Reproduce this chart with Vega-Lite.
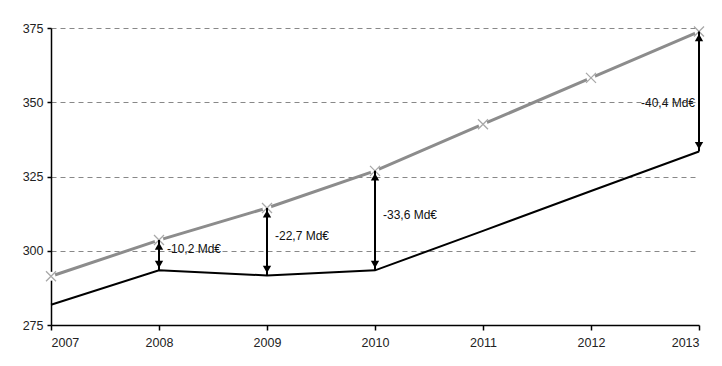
{
  "$schema": "https://vega.github.io/schema/vega-lite/v6.json",
  "width": 648,
  "height": 297,
  "autosize": {"type": "none"},
  "padding": {"left": 51, "top": 28, "right": 23, "bottom": 41},
  "background": "white",
  "config": {
    "view": {"stroke": null},
    "font": "Liberation Sans",
    "axis": {"labelFont": "Liberation Sans", "labelFontSize": 12.5, "labelColor": "#222", "domainColor": "#000", "tickColor": "#000", "domainWidth": 1.5, "tickWidth": 1.5}
  },
  "datasets": {
    "series": [
      {"year": 2007, "serie": "gris", "value": 291.4},
      {"year": 2008, "serie": "gris", "value": 303.6},
      {"year": 2009, "serie": "gris", "value": 314.4},
      {"year": 2010, "serie": "gris", "value": 326.9},
      {"year": 2011, "serie": "gris", "value": 342.6},
      {"year": 2012, "serie": "gris", "value": 358.2},
      {"year": 2013, "serie": "gris", "value": 373.8},
      {"year": 2007, "serie": "noir", "value": 281.8},
      {"year": 2008, "serie": "noir", "value": 293.4},
      {"year": 2009, "serie": "noir", "value": 291.7},
      {"year": 2010, "serie": "noir", "value": 293.4},
      {"year": 2011, "serie": "noir", "value": 306.7},
      {"year": 2012, "serie": "noir", "value": 320.1},
      {"year": 2013, "serie": "noir", "value": 333.4}
    ],
    "gaps": [
      {"year": 2008, "lo": 293.4, "hi": 303.6, "label": "-10,2 Md€"},
      {"year": 2009, "lo": 291.7, "hi": 314.4, "label": "-22,7 Md€"},
      {"year": 2010, "lo": 293.4, "hi": 326.9, "label": "-33,6 Md€"},
      {"year": 2013, "lo": 333.4, "hi": 373.8, "label": "-40,4 Md€"}
    ]
  },
  "layer": [
    {
      "data": {"name": "series"},
      "transform": [{"filter": "datum.serie === 'noir'"}],
      "mark": {"type": "line", "color": "#000", "strokeWidth": 2},
      "encoding": {
        "x": {"field": "year", "type": "quantitative", "scale": {"domain": [2007, 2013], "nice": false, "zero": false},
          "axis": {"title": null, "values": [2007, 2008, 2009, 2010, 2011, 2012, 2013], "format": "d", "grid": false, "tickSize": 5, "labelPadding": 6}},
        "y": {"field": "value", "type": "quantitative", "scale": {"domain": [275, 375], "nice": false, "zero": false},
          "axis": {"title": null, "values": [275, 300, 325, 350, 375], "tickSize": 4, "labelPadding": 4, "grid": true, "gridDash": [5, 4], "gridColor": "#888", "gridWidth": 1}}
      }
    },
    {
      "data": {"name": "series"},
      "transform": [{"filter": "datum.serie === 'gris'"}],
      "mark": {"type": "line", "color": "#8c8c8c", "strokeWidth": 3},
      "encoding": {
        "x": {"field": "year", "type": "quantitative"},
        "y": {"field": "value", "type": "quantitative"}
      }
    },
    {
      "data": {"name": "series"},
      "transform": [{"filter": "datum.serie === 'gris'"}],
      "mark": {"type": "point", "shape": "circle", "size": 80, "filled": true, "color": "white", "opacity": 1},
      "encoding": {
        "x": {"field": "year", "type": "quantitative"},
        "y": {"field": "value", "type": "quantitative"}
      }
    },
    {
      "data": {"name": "series"},
      "transform": [{"filter": "datum.serie === 'gris'"}],
      "mark": {"type": "point", "shape": "M-1,-1L1,1M-1,1L1,-1", "size": 100, "filled": false, "stroke": "#a8a8a8", "strokeWidth": 1.3, "opacity": 1},
      "encoding": {
        "x": {"field": "year", "type": "quantitative"},
        "y": {"field": "value", "type": "quantitative"}
      }
    },
    {
      "data": {"name": "gaps"},
      "mark": {"type": "rule", "color": "#000", "strokeWidth": 2},
      "encoding": {
        "x": {"field": "year", "type": "quantitative"},
        "y": {"field": "lo", "type": "quantitative"},
        "y2": {"field": "hi"}
      }
    },
    {
      "data": {"name": "gaps"},
      "mark": {"type": "point", "shape": "triangle-up", "size": 70, "filled": true, "color": "#000", "opacity": 1, "yOffset": 6},
      "encoding": {
        "x": {"field": "year", "type": "quantitative"},
        "y": {"field": "hi", "type": "quantitative"}
      }
    },
    {
      "data": {"name": "gaps"},
      "mark": {"type": "point", "shape": "triangle-down", "size": 70, "filled": true, "color": "#000", "opacity": 1, "yOffset": -6},
      "encoding": {
        "x": {"field": "year", "type": "quantitative"},
        "y": {"field": "lo", "type": "quantitative"}
      }
    },
    {
      "data": {"name": "gaps"},
      "transform": [{"filter": "datum.year < 2013"}, {"calculate": "(datum.lo + datum.hi) / 2", "as": "mid"}],
      "mark": {"type": "text", "align": "left", "dx": 8, "dy": -6, "fontSize": 12, "color": "#111"},
      "encoding": {
        "x": {"field": "year", "type": "quantitative"},
        "y": {"field": "mid", "type": "quantitative"},
        "text": {"field": "label"}
      }
    },
    {
      "data": {"name": "gaps"},
      "transform": [{"filter": "datum.year === 2013"}, {"calculate": "(datum.lo + datum.hi) / 2", "as": "mid"}],
      "mark": {"type": "text", "align": "right", "dx": -4, "dy": 11, "fontSize": 12, "color": "#111"},
      "encoding": {
        "x": {"field": "year", "type": "quantitative"},
        "y": {"field": "mid", "type": "quantitative"},
        "text": {"field": "label"}
      }
    }
  ]
}
